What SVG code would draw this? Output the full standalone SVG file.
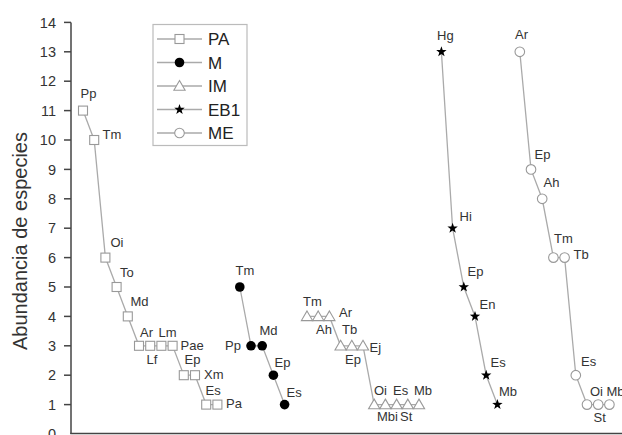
<svg xmlns="http://www.w3.org/2000/svg" width="622" height="435" viewBox="0 0 622 435">
<style>
  .ax { stroke:#444; stroke-width:1.5; fill:none; }
  .tk { font-family:"Liberation Sans",Arial,sans-serif; font-size:14.5px; fill:#333; text-anchor:end; }
  .ttl { font-family:"Liberation Sans",Arial,sans-serif; font-size:20px; fill:#333; text-anchor:middle; }
  .lg { font-family:"Liberation Sans",Arial,sans-serif; font-size:17px; fill:#222; }
  .lb { font-family:"Liberation Sans",Arial,sans-serif; font-size:13px; fill:#333; }
  .ln { stroke:#aaa; stroke-width:1.3; fill:none; }
  .sq { fill:#fff; stroke:#999; stroke-width:1.1; }
  .oc { fill:#fff; stroke:#999; stroke-width:1.1; }
  .tr { fill:#fff; stroke:#999; stroke-width:1.1; }
  .fc { fill:#000; }
  .st { fill:#000; }
</style>
<defs>
  <rect id="msq" x="-4.5" y="-4.5" width="9" height="9" class="sq"/>
  <circle id="mfc" r="4.8" class="fc"/>
  <polygon id="mtr" points="0,-5.5 5.6,4.2 -5.6,4.2" class="tr"/>
  <polygon id="mst" points="0,-5.5 1.3,-1.8 5.2,-1.7 2.1,0.7 3.2,4.5 0,2.2 -3.2,4.5 -2.1,0.7 -5.2,-1.7 -1.3,-1.8" class="st"/>
  <circle id="moc" r="4.8" class="oc"/>
</defs>
<rect width="622" height="435" fill="#fff"/>

<g id="axes">
  <line class="ax" x1="71" y1="22.4" x2="71" y2="434"/>
  <line class="ax" x1="70.3" y1="433.5" x2="622" y2="433.5"/>
  <g stroke="#444" stroke-width="1.5">
    <line x1="64" y1="22.4" x2="71" y2="22.4"/>
    <line x1="64" y1="51.8" x2="71" y2="51.8"/>
    <line x1="64" y1="81.2" x2="71" y2="81.2"/>
    <line x1="64" y1="110.6" x2="71" y2="110.6"/>
    <line x1="64" y1="140" x2="71" y2="140"/>
    <line x1="64" y1="169.4" x2="71" y2="169.4"/>
    <line x1="64" y1="198.8" x2="71" y2="198.8"/>
    <line x1="64" y1="228.2" x2="71" y2="228.2"/>
    <line x1="64" y1="257.6" x2="71" y2="257.6"/>
    <line x1="64" y1="287" x2="71" y2="287"/>
    <line x1="64" y1="316.4" x2="71" y2="316.4"/>
    <line x1="64" y1="345.8" x2="71" y2="345.8"/>
    <line x1="64" y1="375.2" x2="71" y2="375.2"/>
    <line x1="64" y1="404.6" x2="71" y2="404.6"/>
  </g>
  <text class="tk" x="56" y="27.5">14</text>
  <text class="tk" x="56" y="56.9">13</text>
  <text class="tk" x="56" y="86.3">12</text>
  <text class="tk" x="56" y="115.7">11</text>
  <text class="tk" x="56" y="145.1">10</text>
  <text class="tk" x="56" y="174.5">9</text>
  <text class="tk" x="56" y="203.9">8</text>
  <text class="tk" x="56" y="233.3">7</text>
  <text class="tk" x="56" y="262.7">6</text>
  <text class="tk" x="56" y="292.1">5</text>
  <text class="tk" x="56" y="321.5">4</text>
  <text class="tk" x="56" y="350.9">3</text>
  <text class="tk" x="56" y="380.3">2</text>
  <text class="tk" x="56" y="409.7">1</text>
  <text class="tk" x="56" y="439">0</text>
  <text class="ttl" transform="translate(27,241) rotate(-90)">Abundancia de especies</text>
</g>

<g id="legend">
  <rect x="153" y="24.5" width="94" height="121" fill="#fff" stroke="#bbb" stroke-width="1.2"/>
  <line class="ln" x1="157" y1="39" x2="202" y2="39"/>
  <use href="#msq" x="179.5" y="39"/>
  <text class="lg" x="208" y="45">PA</text>
  <line class="ln" x1="157" y1="62.5" x2="202" y2="62.5"/>
  <use href="#mfc" x="179.5" y="62.5"/>
  <text class="lg" x="208" y="68.5">M</text>
  <line class="ln" x1="157" y1="86" x2="202" y2="86"/>
  <use href="#mtr" x="179.5" y="86"/>
  <text class="lg" x="208" y="92">IM</text>
  <line class="ln" x1="157" y1="109.5" x2="202" y2="109.5"/>
  <use href="#mst" x="179.5" y="109.5"/>
  <text class="lg" x="208" y="115.5">EB1</text>
  <line class="ln" x1="157" y1="133" x2="202" y2="133"/>
  <use href="#moc" x="179.5" y="133"/>
  <text class="lg" x="208" y="139">ME</text>
</g>

<g id="connectors">
  <polyline class="ln" points="83,110.6 94.2,140 105.4,257.6 116.6,287 127.8,316.4 139,345.8 150.2,345.8 161.4,345.8 172.6,345.8 183.8,375.2 195,375.2 206.2,404.6 217.4,404.6"/>
  <polyline class="ln" points="239.8,287 251,345.8 262.2,345.8 273.4,375.2 284.6,404.6"/>
  <polyline class="ln" points="307,316.4 318.2,316.4 329.4,316.4 340.6,345.8 351.8,345.8 363,345.8 374.2,404.6 385.4,404.6 396.6,404.6 407.8,404.6 419,404.6"/>
  <polyline class="ln" points="441.4,51.8 452.6,228.2 463.8,287 475,316.4 486.2,375.2 497.4,404.6"/>
  <polyline class="ln" points="519.8,51.8 531,169.4 542.2,198.8 553.4,257.6 564.6,257.6 575.8,375.2 587,404.6 598.2,404.6 609.4,404.6"/>
</g>

<g id="PA">
  <use href="#msq" x="83" y="110.6"/>
  <use href="#msq" x="94.2" y="140"/>
  <use href="#msq" x="105.4" y="257.6"/>
  <use href="#msq" x="116.6" y="287"/>
  <use href="#msq" x="127.8" y="316.4"/>
  <use href="#msq" x="139" y="345.8"/>
  <use href="#msq" x="150.2" y="345.8"/>
  <use href="#msq" x="161.4" y="345.8"/>
  <use href="#msq" x="172.6" y="345.8"/>
  <use href="#msq" x="183.8" y="375.2"/>
  <use href="#msq" x="195" y="375.2"/>
  <use href="#msq" x="206.2" y="404.6"/>
  <use href="#msq" x="217.4" y="404.6"/>
  <text class="lb" x="80.5" y="97.5">Pp</text>
  <text class="lb" x="102.5" y="138.5">Tm</text>
  <text class="lb" x="110.5" y="246.5">Oi</text>
  <text class="lb" x="120" y="276.5">To</text>
  <text class="lb" x="130.5" y="306">Md</text>
  <text class="lb" x="140" y="337">Ar</text>
  <text class="lb" x="158.5" y="337">Lm</text>
  <text class="lb" x="146.5" y="363.5">Lf</text>
  <text class="lb" x="180.5" y="349.5">Pae</text>
  <text class="lb" x="184.5" y="363.5">Ep</text>
  <text class="lb" x="204" y="379">Xm</text>
  <text class="lb" x="205.5" y="395">Es</text>
  <text class="lb" x="226" y="408">Pa</text>
</g>

<g id="M">
  <use href="#mfc" x="239.8" y="287"/>
  <use href="#mfc" x="251" y="345.8"/>
  <use href="#mfc" x="262.2" y="345.8"/>
  <use href="#mfc" x="273.4" y="375.2"/>
  <use href="#mfc" x="284.6" y="404.6"/>
  <text class="lb" x="235.5" y="275">Tm</text>
  <text class="lb" x="225" y="350">Pp</text>
  <text class="lb" x="259.5" y="335">Md</text>
  <text class="lb" x="274.5" y="367">Ep</text>
  <text class="lb" x="286.5" y="397">Es</text>
</g>

<g id="IM">
  <use href="#mtr" x="307" y="316.4"/>
  <use href="#mtr" x="318.2" y="316.4"/>
  <use href="#mtr" x="329.4" y="316.4"/>
  <use href="#mtr" x="340.6" y="345.8"/>
  <use href="#mtr" x="351.8" y="345.8"/>
  <use href="#mtr" x="363" y="345.8"/>
  <use href="#mtr" x="374.2" y="404.6"/>
  <use href="#mtr" x="385.4" y="404.6"/>
  <use href="#mtr" x="396.6" y="404.6"/>
  <use href="#mtr" x="407.8" y="404.6"/>
  <use href="#mtr" x="419" y="404.6"/>
  <text class="lb" x="303" y="306">Tm</text>
  <text class="lb" x="339" y="317">Ar</text>
  <text class="lb" x="316" y="333.5">Ah</text>
  <text class="lb" x="342" y="333.5">Tb</text>
  <text class="lb" x="345" y="363.5">Ep</text>
  <text class="lb" x="369.5" y="352">Ej</text>
  <text class="lb" x="374" y="395">Oi</text>
  <text class="lb" x="393" y="395">Es</text>
  <text class="lb" x="414" y="395">Mb</text>
  <text class="lb" x="377" y="420.5">Mbi</text>
  <text class="lb" x="400" y="420.5">St</text>
</g>

<g id="EB1">
  <use href="#mst" x="441.4" y="51.8"/>
  <use href="#mst" x="452.6" y="228.2"/>
  <use href="#mst" x="463.8" y="287"/>
  <use href="#mst" x="475" y="316.4"/>
  <use href="#mst" x="486.2" y="375.2"/>
  <use href="#mst" x="497.4" y="404.6"/>
  <text class="lb" x="437" y="40">Hg</text>
  <text class="lb" x="459.5" y="220.5">Hi</text>
  <text class="lb" x="467.5" y="275.5">Ep</text>
  <text class="lb" x="479.5" y="308.5">En</text>
  <text class="lb" x="490.5" y="367">Es</text>
  <text class="lb" x="499" y="395.5">Mb</text>
</g>

<g id="ME">
  <use href="#moc" x="519.8" y="51.8"/>
  <use href="#moc" x="531" y="169.4"/>
  <use href="#moc" x="542.2" y="198.8"/>
  <use href="#moc" x="553.4" y="257.6"/>
  <use href="#moc" x="564.6" y="257.6"/>
  <use href="#moc" x="575.8" y="375.2"/>
  <use href="#moc" x="587" y="404.6"/>
  <use href="#moc" x="598.2" y="404.6"/>
  <use href="#moc" x="609.4" y="404.6"/>
  <text class="lb" x="515" y="39">Ar</text>
  <text class="lb" x="534.5" y="159">Ep</text>
  <text class="lb" x="543.5" y="187">Ah</text>
  <text class="lb" x="554" y="243">Tm</text>
  <text class="lb" x="573.5" y="259">Tb</text>
  <text class="lb" x="581" y="365.5">Es</text>
  <text class="lb" x="590" y="395.5">Oi</text>
  <text class="lb" x="606.5" y="395.5">Mb</text>
  <text class="lb" x="593.5" y="422">St</text>
</g>
</svg>
